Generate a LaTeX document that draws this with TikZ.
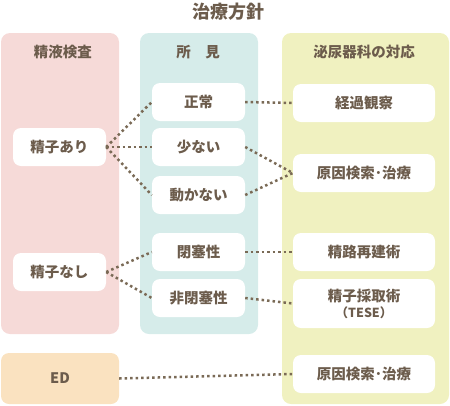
\documentclass[tikz,border=0pt]{standalone}
\usepackage{fontspec}
\setmainfont{Noto Sans CJK JP}
\definecolor{txtbrown}{RGB}{108,92,76}
\definecolor{dotbrown}{RGB}{122,106,86}
\definecolor{pinkbg}{RGB}{246,218,216}
\definecolor{tealbg}{RGB}{214,236,234}
\definecolor{limebg}{RGB}{240,241,192}
\definecolor{orangebg}{RGB}{250,226,192}
\begin{document}
\begin{tikzpicture}[x=1pt,y=-1pt,
    panel/.style={rounded corners=9pt},
    head/.style={text=txtbrown,font=\fontsize{14.5}{16}\selectfont\bfseries},
    item/.style={fill=white,rounded corners=8pt,minimum width=93pt,
                 minimum height=38pt,inner sep=0pt,text=txtbrown,
                 font=\fontsize{14.5}{17}\selectfont\bfseries},
    wide/.style={item,minimum width=142pt},
    link/.style={draw=dotbrown,line width=2.5pt,dash pattern=on 2.5pt off 3pt}]
    \useasboundingbox (0,0) rectangle (450,405);
    % Draw title
    \node (title) [text=txtbrown,font=\fontsize{18}{20}\selectfont\bfseries] at (228,12) {治療方針};
    % Draw panels
    \fill[pinkbg,panel]  (1,33)   rectangle (119,334);
    \fill[tealbg,panel]  (140,33) rectangle (258,334);
    \fill[limebg,panel]  (282,33) rectangle (449,404);
    % Draw headings
    \node (hexam)  [head] at (63,52)  {精液検査};
    \node (hfind)  [head] at (198,52) {所　見};
    \node (hurol)  [head] at (364,52) {泌尿器科の対応};
    % Draw left column
    \node (sperm)   [item] at (59.5,147) {精子あり};
    \node (nosperm) [item] at (59.5,272) {精子なし};
    \node (ed) [item,fill=orangebg,minimum width=118pt,minimum height=51pt] at (60,378.5) {ED};
    % Draw middle column
    \node (normal)  [item] at (198.5,102) {正常};
    \node (few)     [item] at (198.5,147) {少ない};
    \node (still)   [item] at (198.5,195) {動かない};
    \node (block)   [item] at (198.5,252) {閉塞性};
    \node (noblock) [item] at (198.5,298) {非閉塞性};
    % Draw right column
    \node (watch)  [wide] at (364,103) {経過観察};
    \node (cause)  [wide] at (364,173) {原因検索･治療};
    \node (recon)  [wide] at (364,252) {精路再建術};
    \node (tese)   [wide,minimum height=49pt,align=center,
                    font=\fontsize{14.5}{15}\selectfont\bfseries] at (364,303.5)
                   {精子採取術\\[1pt]{\fontsize{12.5}{14}\selectfont（TESE）}};
    \node (causeb) [wide] at (364,374) {原因検索･治療};
    % Draw links
    \draw[link] (sperm.east) -- (normal.west);
    \draw[link] (sperm.east) -- (few.west);
    \draw[link] (sperm.east) -- (still.west);
    \draw[link] (nosperm.east) -- (block.west);
    \draw[link] (nosperm.east) -- (noblock.west);
    \draw[link] (normal.east) -- (watch.west);
    \draw[link] (few.east) -- (cause.west);
    \draw[link] (still.east) -- (cause.west);
    \draw[link] (block.east) -- (recon.west);
    \draw[link] (noblock.east) -- (tese.west);
    \draw[link] (ed.east) -- (causeb.west);
\end{tikzpicture}
\end{document}
